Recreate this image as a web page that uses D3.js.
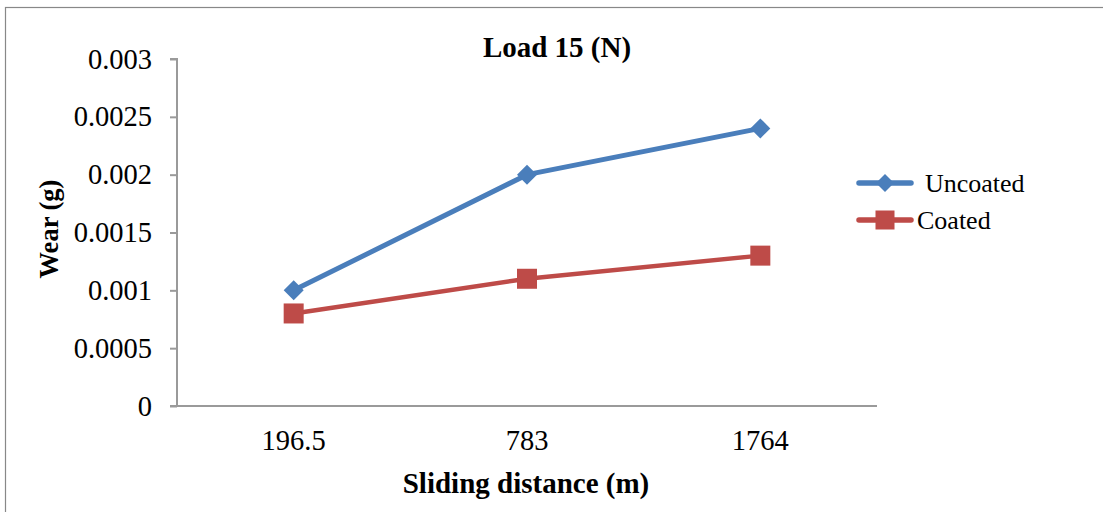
<!DOCTYPE html>
<html>
<head>
<meta charset="utf-8">
<script src="https://cdn.jsdelivr.net/npm/d3@7"></script>
<style>
  html, body { margin: 0; padding: 0; background: #fff; }
  svg { display: block; }
  text { font-family: "Liberation Serif", "Times New Roman", serif; fill: #000; }
</style>
</head>
<body>
<svg id="chart" width="1103" height="512"></svg>
<script>
// Sliding distance categories (m)
const distances = ["196.5", "783", "1764"];
// Wear (g) per series
const uncoated = [0.001, 0.002, 0.0024];
const coated = [0.0008, 0.0011, 0.0013];
const seriesNames = ["Uncoated", "Coated"];
const yTicks = [0, 0.0005, 0.001, 0.0015, 0.002, 0.0025, 0.003];

const colors = { Uncoated: "#4a7ebb", Coated: "#be4b48" };
const series = [
  { name: seriesNames[0], values: uncoated, shape: "diamond" },
  { name: seriesNames[1], values: coated, shape: "square" }
];

const svg = d3.select("#chart");
const W = 1103, H = 512;
const plot = { left: 177, right: 877, top: 59, bottom: 406 };
const tickFont = 28.5;
const titleFont = 29;

// outer frame (right/bottom edges fall outside the canvas)
svg.append("rect")
  .attr("x", 5.5).attr("y", 7.5)
  .attr("width", W + 20).attr("height", H + 20)
  .attr("fill", "#fff").attr("stroke", "#888").attr("stroke-width", 1.2);

const x = d3.scaleBand().domain(distances).range([plot.left, plot.right]).padding(0);
const y = d3.scaleLinear().domain([0, 0.003]).range([plot.bottom, plot.top]);

const axisColor = "#9a9a9a";

// y axis
const yAxis = svg.append("g")
  .attr("transform", `translate(${plot.left},0)`)
  .call(d3.axisLeft(y).tickValues(yTicks).tickSize(7).tickPadding(18)
    .tickFormat(d => d === 0 ? "0" : String(+d.toFixed(4))));
yAxis.select(".domain").attr("stroke", axisColor).attr("stroke-width", 2)
  .attr("d", `M-7,${plot.top}H0V${plot.bottom}`);
yAxis.selectAll(".tick line").attr("stroke", axisColor).attr("stroke-width", 2);
yAxis.selectAll(".tick text").style("font-size", tickFont + "px")
  .style("font-family", "Liberation Serif").attr("fill", "#000");

// x axis
const xAxis = svg.append("g")
  .attr("transform", `translate(0,${plot.bottom})`)
  .call(d3.axisBottom(x).tickSize(0).tickPadding(24));
xAxis.select(".domain").attr("stroke", axisColor).attr("stroke-width", 2)
  .attr("d", `M${plot.left - 7},0H${plot.right}`);
xAxis.selectAll(".tick text").style("font-size", tickFont + "px")
  .style("font-family", "Liberation Serif").attr("fill", "#000");

const cx = d => x(d) + x.bandwidth() / 2;

const line = d3.line();

function marker(g, shape, px, py, color, s) {
  if (shape === "diamond") {
    const r = s;
    g.append("path")
      .attr("d", `M${px},${py - r}L${px + r},${py}L${px},${py + r}L${px - r},${py}Z`)
      .attr("fill", color);
  } else {
    g.append("rect")
      .attr("x", px - s).attr("y", py - s)
      .attr("width", 2 * s).attr("height", 2 * s)
      .attr("fill", color);
  }
}

series.forEach(s => {
  const pts = distances.map((d, i) => [cx(d), y(s.values[i])]);
  svg.append("path")
    .attr("d", line(pts))
    .attr("fill", "none")
    .attr("stroke", colors[s.name])
    .attr("stroke-width", s.shape === "diamond" ? 5 : 4.5)
    .attr("stroke-linejoin", "round")
    .attr("stroke-linecap", "round");
  const g = svg.append("g");
  pts.forEach(p => marker(g, s.shape, p[0], p[1], colors[s.name], 10));
});

// title
svg.append("text")
  .attr("x", 557).attr("y", 57)
  .attr("text-anchor", "middle")
  .style("font-size", titleFont + "px").style("font-weight", "bold")
  .text("Load 15 (N)");

// axis titles
svg.append("text")
  .attr("x", 526).attr("y", 493)
  .attr("text-anchor", "middle")
  .style("font-size", titleFont + "px").style("font-weight", "bold")
  .text("Sliding distance (m)");

svg.append("text")
  .attr("transform", `translate(58,229) rotate(-90)`)
  .attr("text-anchor", "middle")
  .style("font-size", "26.5px").style("font-weight", "bold")
  .text("Wear (g)");

// legend
const legend = [
  { name: seriesNames[0], shape: "diamond", ly: 183, tx: 925 },
  { name: seriesNames[1], shape: "square", ly: 220, tx: 917 }
];
legend.forEach(l => {
  const g = svg.append("g");
  g.append("line")
    .attr("x1", 859).attr("x2", 911).attr("y1", l.ly).attr("y2", l.ly)
    .attr("stroke", colors[l.name]).attr("stroke-width", 5.5)
    .attr("stroke-linecap", "round");
  marker(g, l.shape, 885, l.ly, colors[l.name], l.shape === "diamond" ? 9 : 9.5);
  g.append("text")
    .attr("x", l.tx).attr("y", l.ly + 9)
    .style("font-size", "26px")
    .text(l.name);
});
</script>
</body>
</html>
